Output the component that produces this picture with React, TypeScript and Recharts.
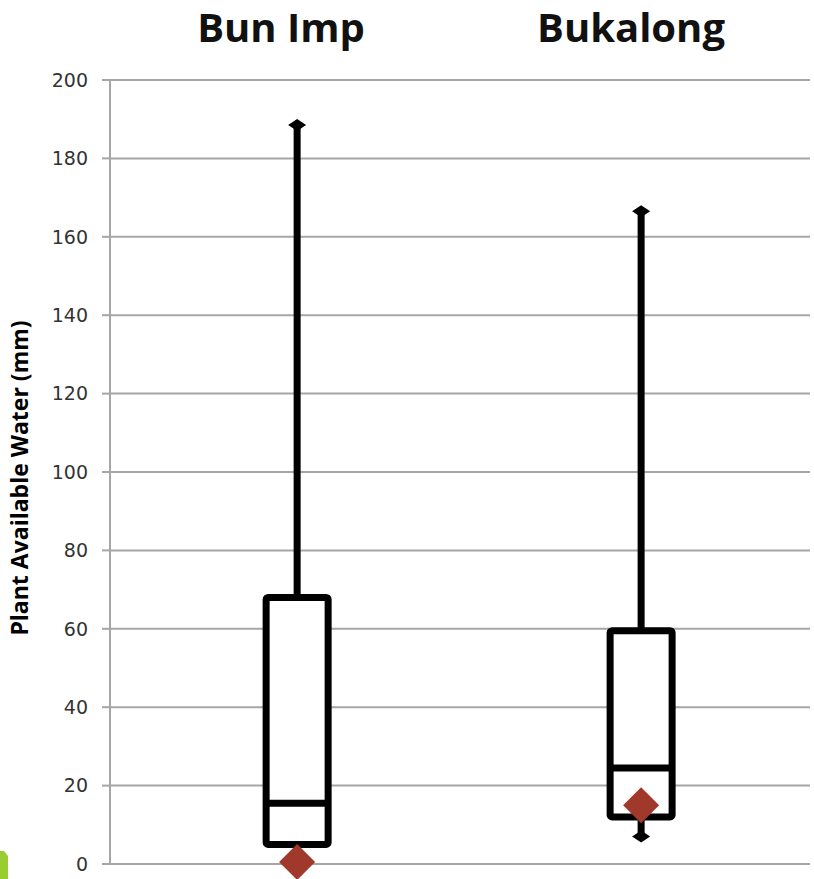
import React from "react";
import { Bar, ComposedChart, CartesianGrid, XAxis, YAxis, Label } from "recharts";

const sites = ["Bun Imp", "Bukalong"];
const sitePos = [1, 2];
const whiskerMin = [5, 7];
const q1 = [5, 12];
const median = [15.5, 24.5];
const q3 = [68, 59.5];
const whiskerMax = [188.5, 166.5];
const measured = [0.5, 15];
const yTicks = [0, 20, 40, 60, 80, 100, 120, 140, 160, 180, 200];

const data = sites.map((name, i) => ({
  name,
  pos: sitePos[i],
  range: [whiskerMin[i], whiskerMax[i]],
  q1: q1[i],
  median: median[i],
  q3: q3[i],
  measured: measured[i],
}));

const INK = "#000000";
const GRID = "#a6a6a6";
const DIAMOND_RED = "#a0392b";

function diamond(cx: number, cy: number, hw: number, hh: number) {
  return `M${cx},${cy - hh} L${cx + hw},${cy} L${cx},${cy + hh} L${cx - hw},${cy} Z`;
}

/** Draws whiskers, box, median and the measured-value marker for one site. */
function BoxShape(props: any) {
  const { x, y, width, height, payload } = props;
  const [lo, hi] = payload.range;
  const top = Math.min(y, y + height);
  const bottom = Math.max(y, y + height);
  const py = (v: number) => bottom - ((v - lo) / (hi - lo)) * (bottom - top);
  const cx = x + width / 2;
  const sw = 7;
  return (
    <g>
      <line x1={cx} x2={cx} y1={py(hi)} y2={py(lo)} stroke={INK} strokeWidth={sw} />
      <path d={diamond(cx, py(hi), 9, 6)} fill={INK} />
      <path d={diamond(cx, py(lo), 9, 6)} fill={INK} />
      <rect
        x={x}
        y={py(payload.q3)}
        width={width}
        height={py(payload.q1) - py(payload.q3)}
        fill="#ffffff"
        stroke={INK}
        strokeWidth={sw}
        rx={2}
      />
      <line x1={x} x2={x + width} y1={py(payload.median)} y2={py(payload.median)} stroke={INK} strokeWidth={sw} />
      <path d={diamond(cx, py(payload.measured), 18, 18)} fill={DIAMOND_RED} />
    </g>
  );
}

function SiteTick(props: any) {
  const { x, payload } = props;
  return (
    <text x={x - 4} y={42} textAnchor="middle" fontFamily="Open Sans" fontWeight={700} fontSize={40} fill="#111">
      {payload.value}
    </text>
  );
}

export default function App() {
  return (
    <div style={{ position: "absolute", left: 0, top: 0, width: 814, height: 879, background: "#fff", overflow: "hidden" }}>
      <ComposedChart width={814} height={879} data={data} margin={{ top: 0, right: 4, bottom: 15, left: 0 }}>
        <CartesianGrid vertical={false} stroke={GRID} strokeWidth={2} />
        <XAxis
          xAxisId="site"
          dataKey="name"
          orientation="top"
          height={80}
          axisLine={false}
          tickLine={false}
          tick={<SiteTick />}
        />
        <XAxis xAxisId="pos" dataKey="pos" type="number" domain={[0.456, 2.491]} hide />
        <YAxis
          domain={[0, 200]}
          ticks={yTicks}
          width={110}
          axisLine={{ stroke: GRID, strokeWidth: 2 }}
          tickLine={{ stroke: GRID, strokeWidth: 2 }}
          tickSize={8}
          tickMargin={14}
          tick={{ fontSize: 19, fill: "#333", fontFamily: "DejaVu Sans" }}
        >
          <Label
            value="Plant Available Water (mm)"
            angle={-90}
            position="insideLeft"
            offset={20}
            dx={0}
            dy={6}
            style={{ fontSize: 23, fontWeight: 700, fill: "#000", fontFamily: "Open Sans", textAnchor: "middle" }}
          />
        </YAxis>
        <Bar xAxisId="pos" dataKey="range" barSize={62} shape={<BoxShape />} isAnimationActive={false} />
      </ComposedChart>
      <svg width={8} height={30} style={{ position: "absolute", left: 0, top: 851 }}>
        <path d="M0,0 L4,0 L8,5 L8,30 L0,30 Z" fill="#9acd32" />
      </svg>
    </div>
  );
}
